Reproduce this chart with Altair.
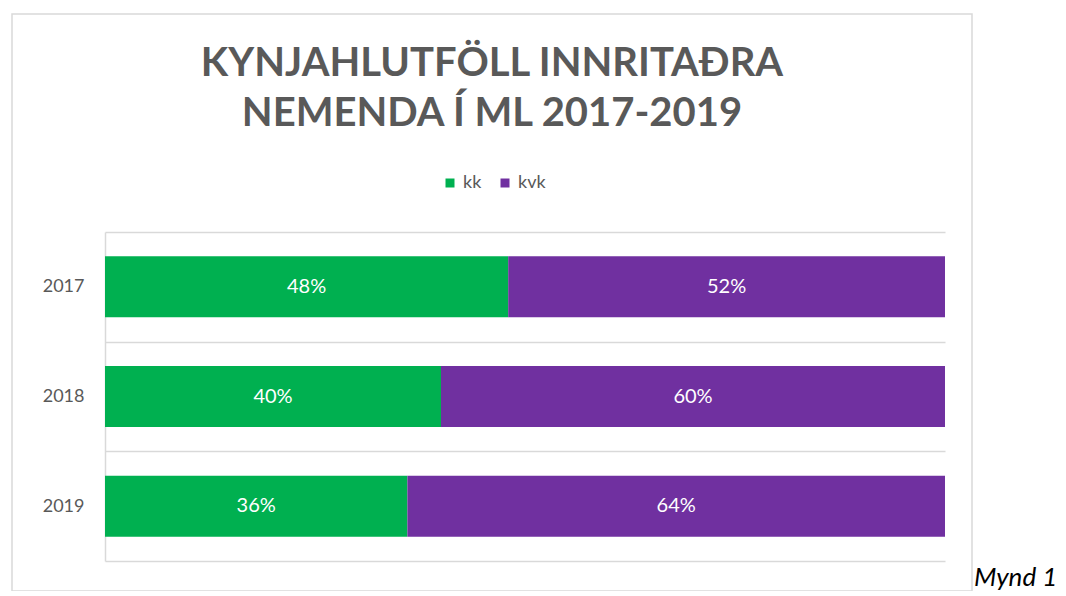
import altair as alt
import pandas as pd

years = ["2017", "2018", "2019"]
kk = [48, 40, 36]
kvk = [52, 60, 64]
groups = ["kk", "kvk"]
colors = ["#00b050", "#7030a0"]
title_lines = ["KYNJAHLUTFÖLL INNRITAÐRA", "NEMENDA Í ML 2017-2019"]
caption = ["Mynd 1"]

rows = []
for y, a, b in zip(years, kk, kvk):
    rows.append({"year": y, "group": groups[0], "order": 0, "value": a})
    rows.append({"year": y, "group": groups[1], "order": 1, "value": b})
df = pd.DataFrame(rows)

GRAY = "#595959"
LINE = "#d9d9d9"
FONT = "Lato"

yenc = alt.Y(
    "year:N",
    sort=years,
    title=None,
    scale=alt.Scale(paddingInner=0, paddingOuter=0),
    axis=alt.Axis(
        grid=True,
        tickBand="extent",
        gridColor=LINE,
        gridWidth=1.5,
        ticks=False,
        domain=True,
        domainColor=LINE,
        domainWidth=1.5,
        labelPadding=21,
        labelFontSize=18,
        labelColor=GRAY,
        labelFont=FONT,
    ),
)

base = (
    alt.Chart(df)
    .transform_stack(
        stack="value",
        groupby=["year"],
        as_=["v0", "v1"],
        offset="normalize",
        sort=[alt.SortField("order", "ascending")],
    )
    .transform_calculate(mid="(datum.v0 + datum.v1) / 2", label="datum.value + '%'")
)

xscale = alt.Scale(domain=[0, 1], nice=False)

bars = base.mark_bar(size=61).encode(
    x=alt.X("v0:Q", scale=xscale, axis=None),
    x2="v1:Q",
    y=yenc,
    color=alt.Color(
        "group:N",
        scale=alt.Scale(domain=groups, range=colors),
        legend=alt.Legend(
            orient="none",
            legendX=336,
            legendY=-58,
            direction="horizontal",
            title=None,
            symbolType="square",
            symbolSize=81,
            symbolStrokeWidth=0,
            labelFontSize=18,
            labelColor=GRAY,
            labelFont=FONT,
            labelOffset=4,
            columnPadding=14,
        ),
    ),
)

labels = base.mark_text(color="white", fontSize=20, font=FONT).encode(
    x=alt.X("mid:Q", scale=xscale, axis=None),
    y=alt.Y("year:N", sort=years),
    text="label:N",
)

frame = alt.Chart(pd.DataFrame({"k": [1]})).mark_rect(
    fill="white", fillOpacity=0, stroke=LINE, strokeWidth=1.5
).encode(
    x=alt.value(-93), x2=alt.value(867), y=alt.value(-218), y2=alt.value(359)
)

cap = alt.Chart(pd.DataFrame({"t": caption})).mark_text(
    align="left", baseline="alphabetic", fontSize=26, fontStyle="italic", font=FONT, color="black"
).encode(text="t:N", x=alt.value(869), y=alt.value(354))

chart = (
    alt.layer(frame, bars, labels, cap)
    .properties(
        width=840,
        height=329,
        autosize="none",
        padding={"left": 97, "top": 224, "right": 113, "bottom": 30},
        title=alt.TitleParams(
            text=title_lines,
            fontSize=40,
            font=FONT,
            fontWeight="bold",
            color=GRAY,
            anchor="middle",
            dx=-33,
            dy=121,
            lineHeight=50,
            offset=0,
        ),
    )
    .configure_view(stroke=None)
)

chart.save("out.html", embed_options={"renderer": "svg", "actions": False})
